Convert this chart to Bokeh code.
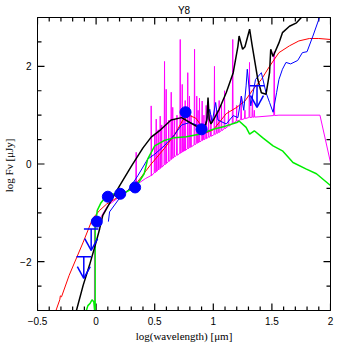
import numpy as np
from bokeh.plotting import figure
from bokeh.models import LinearAxis, FixedTicker, Range1d, Title, ColumnDataSource
from bokeh.embed import file_html
from bokeh.resources import INLINE

# ---------------- data ----------------
title_text = "Y8"
x_ticks = [-0.5, 0.0, 0.5, 1.0, 1.5, 2.0]
x_tick_labels = ["\u22120.5", "0", "0.5", "1", "1.5", "2"]
x_minor = [round(-0.5 + 0.1 * i, 2) for i in range(26)]
y_ticks = [-2, 0, 2]
y_tick_labels = ["\u22122", "0", "2"]
y_minor = [-3, -2.5, -1.5, -1, -0.5, 0.5, 1, 1.5, 2.5, 3]

red_x = [-0.37, -0.335, -0.31, -0.305, -0.295, -0.23, -0.11, -0.03, 0.03, 0.09, 0.2, 0.33,
         0.47, 0.58, 0.67, 0.74, 0.8, 0.85, 0.9, 0.94, 1.0, 1.05, 1.11, 1.2, 1.27, 1.34,
         1.41, 1.48, 1.56, 1.65, 1.73, 1.82, 1.9, 2.0]
red_y = [-3.2, -2.95, -2.78, -2.70, -2.72, -2.28, -1.6, -1.12, -0.95, -0.82, -0.66, -0.44,
         0.0, 0.31, 0.6, 0.9, 0.99, 0.94, 0.78, 0.64, 0.7, 0.85, 1.03, 1.16, 1.29, 1.53,
         1.73, 2.0, 2.28, 2.42, 2.52, 2.57, 2.57, 2.55]

black_x = [-0.19, -0.11, -0.056, 0.0, 0.03, 0.057, 0.14, 0.2, 0.3, 0.4, 0.47, 0.55, 0.64,
           0.73, 0.8, 0.85, 0.9, 0.93, 0.945, 0.955, 0.965, 0.98, 1.0, 1.05, 1.11, 1.17,
           1.21, 1.22, 1.25, 1.27, 1.31, 1.33, 1.38, 1.41, 1.45, 1.48, 1.49, 1.51, 1.56,
           1.59, 1.65, 1.71, 1.77, 1.8]
black_y = [-3.2, -2.48, -2.07, -1.6, -1.33, -1.05, -0.7, -0.45, -0.05, 0.33, 0.55, 0.7, 0.9,
           0.95, 0.85, 0.78, 0.75, 0.76, 0.9, 1.36, 0.92, 0.82, 0.9, 1.12, 1.46, 1.87,
           2.41, 2.62, 2.35, 2.4, 2.76, 2.45, 1.73, 1.46, 1.43, 1.87, 2.35, 2.2, 2.48,
           2.69, 2.82, 2.89, 3.05, 3.2]

blue_x = [0.105, 0.115, 0.2, 0.27, 0.356, 0.44, 0.5, 0.58, 0.67, 0.73, 0.8, 0.88, 0.93,
          0.97, 0.99, 1.02, 1.04, 1.11, 1.17, 1.21, 1.24, 1.26, 1.28, 1.29, 1.32, 1.36,
          1.41, 1.45, 1.48, 1.51, 1.54, 1.56, 1.59, 1.62, 1.66, 1.72, 1.76, 1.8, 1.85,
          1.9, 1.93]
blue_y = [-1.18, -0.98, -0.7, -0.55, -0.24, 0.1, 0.2, 0.37, 0.6, 0.8, 0.85, 0.78, 0.8,
          1.12, 0.85, 1.26, 0.9, 0.82, 0.99, 0.95, 1.39, 1.1, 1.6, 1.94, 1.19, 1.73,
          1.87, 1.46, 1.26, 1.06, 1.46, 1.73, 1.94, 2.08, 2.05, 2.12, 2.28, 2.3, 2.62,
          2.96, 3.2]

green_x = [-0.09, -0.07, -0.05, -0.035, -0.02, -0.008, -0.008, 0.01, 0.04, 0.08, 0.14, 0.25,
           0.34, 0.41, 0.44, 0.5, 0.58, 0.67, 0.77, 0.88, 1.0, 1.11, 1.2, 1.22, 1.28, 1.31,
           1.35, 1.42, 1.51, 1.59, 1.68, 1.79, 1.88, 2.0]
green_y = [-3.05, -2.9, -2.85, -2.78, -2.82, -3.1, -1.3, -0.95, -0.8, -0.68, -0.62, -0.58,
           -0.47, -0.2, 0.1, 0.37, 0.48, 0.54, 0.56, 0.61, 0.71, 0.78, 0.85, 0.88, 0.75,
           0.61, 0.68, 0.54, 0.37, 0.27, 0.03, -0.1, -0.2, -0.44]

magenta_base_x = [-0.014, -0.014, 0.0, 0.05, 0.1, 0.2, 0.3, 0.36, 0.42, 0.47, 0.67, 0.88,
                  1.05, 1.2, 1.3, 1.56, 1.91, 2.0]
magenta_base_y = [-3.2, -1.3, -1.25, -1.05, -0.85, -0.67, -0.5, -0.4, -0.3, -0.24, 0.15,
                  0.45, 0.65, 0.88, 0.95, 1.0, 1.0, 0.03]
magenta_spike_x = [0.342, 0.47, 0.5, 0.513, 0.53, 0.547, 0.56, 0.584, 0.598, 0.62, 0.641,
                   0.654, 0.67, 0.69, 0.718, 0.735, 0.75, 0.76, 0.782, 0.797, 0.81, 0.84,
                   0.859, 0.87, 0.882, 0.905, 0.92, 0.939, 0.96, 0.98, 1.01, 1.03, 1.05,
                   1.07, 1.096, 1.13, 1.166, 1.2, 1.238, 1.27, 1.309, 1.334, 1.35, 1.52]
magenta_spike_top = [0.24, 1.19, 0.6, 0.92, 0.7, 0.98, 0.8, 2.1, 1.53, 0.9, 1.47,
                     1.16, 0.9, 1.0, 2.55, 1.63, 1.1, 1.3, 1.87, 1.39, 1.0, 2.35,
                     1.39, 1.1, 1.35, 1.29, 1.0, 1.2, 1.1, 1.0, 2.0, 1.1, 1.3,
                     1.2, 1.5, 1.1, 2.55, 1.2, 1.39, 1.1, 2.08, 1.4, 1.1, 2.3]

dot_x = [0.006, 0.10, 0.206, 0.333, 0.763, 0.90]
dot_y = [-1.18, -0.67, -0.61, -0.48, 1.06, 0.71]

limit_x = [-0.042, -0.105, 1.373]
limit_y = [-1.33, -1.9, 1.6]

# ---------------- figure ----------------
X0, X1, Y0, Y1 = -0.5, 2.0, -3.0, 3.0
FW, FH = 293, 293
p = figure(frame_width=FW, frame_height=FH, output_backend="svg", toolbar_location=None,
           x_range=Range1d(X0, X1), y_range=Range1d(Y0, Y1),
           min_border_left=30, min_border_right=10, min_border_top=10, min_border_bottom=30)
p.title = Title(text=title_text, align="center", text_font="Liberation Sans",
                text_font_size="10px", text_font_style="normal", text_color="black",
                standoff=4, offset=0)
p.grid.visible = False
p.outline_line_color = "black"
p.background_fill_color = "white"
p.border_fill_color = "white"

xt = FixedTicker(ticks=x_ticks, minor_ticks=[])
yt = FixedTicker(ticks=y_ticks, minor_ticks=[])


def style_axis(ax, ticker, labels=None):
    ax.ticker = ticker
    ax.axis_line_color = "black"
    ax.major_tick_line_color = None
    ax.minor_tick_line_color = None
    ax.major_tick_in = 0
    ax.major_tick_out = 0
    ax.minor_tick_in = 0
    ax.minor_tick_out = 0
    if labels is None:
        ax.major_label_overrides = {t: "" for t in ticker.ticks}
        ax.major_label_standoff = 0
    else:
        ax.major_label_overrides = {t: l for t, l in zip(ticker.ticks, labels)}
        ax.major_label_text_font = "Liberation Sans"
        ax.major_label_text_font_size = "10px"
        ax.major_label_text_color = "black"


style_axis(p.xaxis[0], xt, x_tick_labels)
style_axis(p.yaxis[0], yt, y_tick_labels)
p.xaxis[0].axis_label = "log(wavelength) [\u03bcm]"
p.yaxis[0].axis_label = "log F\u03bd  [\u03bcJy]"
for ax in (p.xaxis[0], p.yaxis[0]):
    ax.axis_label_text_font = "Liberation Serif"
    ax.axis_label_text_font_size = "11px"
    ax.axis_label_text_font_style = "normal"
    ax.axis_label_text_color = "black"
    ax.axis_label_standoff = 2
p.xaxis[0].major_label_standoff = 6
p.yaxis[0].major_label_standoff = 6

top_ax = LinearAxis()
style_axis(top_ax, FixedTicker(ticks=x_ticks, minor_ticks=[]))
p.add_layout(top_ax, "above")
right_ax = LinearAxis()
style_axis(right_ax, FixedTicker(ticks=y_ticks, minor_ticks=[]))
p.add_layout(right_ax, "right")

# inward tick marks on all four sides, drawn from the tick lists
dxp = (X1 - X0) / FW
dyp = (Y1 - Y0) / FH
MAJ, MIN = 7, 4
xmaj = [float(t) for t in x_ticks]
xmin_ = [float(t) for t in x_minor if all(abs(t - m) > 1e-9 for m in x_ticks)]
ymaj = [float(t) for t in y_ticks]
ymin_ = [float(t) for t in y_minor]
tx0, ty0, tx1, ty1 = [], [], [], []
for arr, L in ((xmaj, MAJ), (xmin_, MIN)):
    for t in arr:
        tx0 += [t, t]
        tx1 += [t, t]
        ty0 += [Y0, Y1]
        ty1 += [Y0 + L * dyp, Y1 - L * dyp]
for arr, L in ((ymaj, MAJ), (ymin_, MIN)):
    for t in arr:
        ty0 += [t, t]
        ty1 += [t, t]
        tx0 += [X0, X1]
        tx1 += [X0 + L * dxp, X1 - L * dxp]
tick_src = ColumnDataSource(dict(x0=tx0, y0=ty0, x1=tx1, y1=ty1))
p.segment("x0", "y0", "x1", "y1", source=tick_src, line_color="black", line_width=1.2)

# magenta spectrum with emission spikes
bx = np.array(magenta_base_x)
by = np.array(magenta_base_y)
mx = list(bx[:10])
my = list(by[:10])
cont_x = bx[9:]
cont_y = by[9:]
seq_x = []
seq_y = []
for sx, st in zip(magenta_spike_x, magenta_spike_top):
    b = float(np.interp(sx, cont_x, cont_y)) if sx >= cont_x[0] else float(np.interp(sx, bx[2:10], by[2:10]))
    seq_x += [sx - 0.004, sx, sx + 0.003]
    seq_y += [b, st, b]
pts = list(zip(mx, my))
rest = sorted(list(zip(seq_x, seq_y)) + list(zip(cont_x[1:], cont_y[1:])), key=lambda t: t[0])
tail = sorted(pts[2:] + rest, key=lambda t: t[0])
allpts = pts[:2] + tail
p.line([a for a, _ in allpts], [b for _, b in allpts], line_color="#ff00ff", line_width=1)

p.line(red_x, red_y, line_color="#ff0000", line_width=1)
p.line(blue_x, blue_y, line_color="#0000ff", line_width=1)
p.line(green_x, green_y, line_color="#00ee00", line_width=1.5)
p.line(black_x, black_y, line_color="black", line_width=1.5)

p.scatter(dot_x, dot_y, size=11, fill_color="#0000ff", line_color="#0000ff")

# upper limits
lx = np.array(limit_x)
ly = np.array(limit_y)
bar_half = 0.062
arrow_len = 0.44
head_w = 0.055
head_h = 0.24
p.segment(lx - bar_half, ly, lx + bar_half, ly, line_color="#0000ff", line_width=1.5)
p.segment(lx, ly, lx, ly - arrow_len, line_color="#0000ff", line_width=1.5)
p.segment(lx - head_w, ly - arrow_len + head_h, lx, ly - arrow_len, line_color="#0000ff", line_width=1.5)
p.segment(lx + head_w, ly - arrow_len + head_h, lx, ly - arrow_len, line_color="#0000ff", line_width=1.5)

open("out.html", "w").write(file_html(p, INLINE))
